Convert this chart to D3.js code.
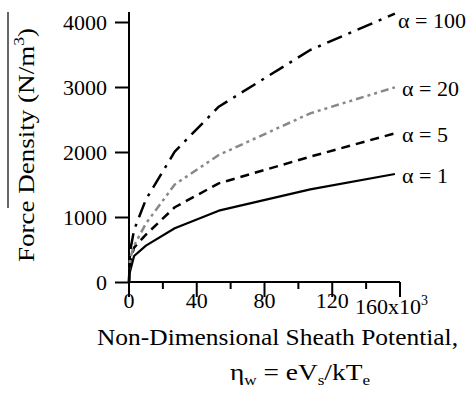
<!DOCTYPE html>
<html><head><meta charset="utf-8">
<script src="https://cdn.jsdelivr.net/npm/d3@7"></script>
<style>body{margin:0;background:#fff}svg{display:block}text{font-family:"Liberation Serif","Times New Roman",Tinos,serif;fill:#000}</style>
</head><body><svg id="c" width="471" height="407"></svg>
<script>
const eta = [0, 0.5, 3, 10, 27, 53, 107, 157];
const alpha1 = [0, 150, 400, 560, 826, 1097, 1426, 1662];
const alpha5 = [0, 300, 530, 730, 1150, 1518, 1928, 2287];
const alpha20 = [0, 350, 560, 900, 1500, 1954, 2595, 2995];
const alpha100 = [0, 450, 800, 1270, 2005, 2697, 3569, 4128];
const seriesNames = ["α = 1", "α = 5", "α = 20", "α = 100"];
const yTicks = [0, 1000, 2000, 3000, 4000];
const xMajor = [0, 40, 80, 120, 160];
const xMinor = [20, 60, 100, 140];

const svg = d3.select("#c");
const x = d3.scaleLinear().domain([0, 160]).range([129, 400]);
const y = d3.scaleLinear().domain([0, 4000]).range([282, 22]);

const styles = [
  {data: alpha1, color: "#000", dash: null, w: 2.2, ly: 175, lx: 402},
  {data: alpha5, color: "#000", dash: "9,6", w: 2.5, ly: 134, lx: 402},
  {data: alpha20, color: "#888", dash: "8,4,3,4,3,4", w: 2.5, ly: 88, lx: 402},
  {data: alpha100, color: "#000", dash: "16,7,3,7", w: 2.5, ly: 20, lx: 398}
];

// axes
const yAxis = d3.axisLeft(y).tickValues(yTicks).tickFormat(d3.format("d"))
  .tickSize(14).tickPadding(8).tickSizeOuter(0);
const gy = svg.append("g").attr("transform", `translate(${x(0)},0)`).call(yAxis);
gy.attr("font-family", null);
gy.select(".domain").remove();
gy.selectAll("line").attr("stroke", "#000").attr("stroke-width", 2);
gy.selectAll("text").style("font-size", "22px");

svg.append("line").attr("x1", x(0)).attr("x2", x(0)).attr("y1", 12).attr("y2", y(0) + 15)
  .attr("stroke", "#000").attr("stroke-width", 2);
svg.append("line").attr("x1", x(0)).attr("x2", x(160)).attr("y1", y(0)).attr("y2", y(0))
  .attr("stroke", "#000").attr("stroke-width", 2);

const gx = svg.append("g");
gx.selectAll("line.maj").data(xMajor).join("line")
  .attr("x1", d => x(d)).attr("x2", d => x(d)).attr("y1", y(0)).attr("y2", y(0) + 15)
  .attr("stroke", "#000").attr("stroke-width", 2);
gx.selectAll("line.min").data(xMinor).join("line")
  .attr("x1", d => x(d)).attr("x2", d => x(d)).attr("y1", y(0)).attr("y2", y(0) + 7)
  .attr("stroke", "#000").attr("stroke-width", 2);
gx.selectAll("text.tl").data(xMajor.slice(0, 4)).join("text")
  .attr("x", d => x(d)).attr("y", 308).attr("text-anchor", "middle")
  .style("font-size", "22px").text(d => d);
const last = gx.append("text").attr("x", 355).attr("y", 314).style("font-size", "22px");
last.append("tspan").text("160x10");
last.append("tspan").attr("dy", -9).style("font-size", "14px").text("3");

// lines
const line = d3.line().x((d, i) => x(eta[i])).y(d => y(d));
styles.forEach((s, k) => {
  svg.append("path").datum(s.data).attr("d", line).attr("fill", "none")
    .attr("stroke", s.color).attr("stroke-width", s.w)
    .attr("stroke-dasharray", s.dash).attr("stroke-linejoin", "round");
  svg.append("text").attr("x", s.lx).attr("y", s.ly).attr("dy", "0.35em")
    .style("font-size", "22px").text(seriesNames[k]);
});

// axis titles
svg.append("text").attr("x", 97).attr("y", 345).attr("textLength", 361).attr("lengthAdjust", "spacingAndGlyphs")
  .style("font-size", "23px").text("Non-Dimensional Sheath Potential,");
const t2 = svg.append("text").attr("x", 230).attr("y", 380)
  .attr("textLength", 140).attr("lengthAdjust", "spacingAndGlyphs").style("font-size", "24px");
t2.append("tspan").text("η");
t2.append("tspan").attr("dy", 5).style("font-size", "15px").text("w");
t2.append("tspan").attr("dy", -5).text(" = eV");
t2.append("tspan").attr("dy", 5).style("font-size", "15px").text("s");
t2.append("tspan").attr("dy", -5).text("/kT");
t2.append("tspan").attr("dy", 5).style("font-size", "15px").text("e");

svg.append("line").attr("x1", 8).attr("x2", 8).attr("y1", 12).attr("y2", 208).attr("stroke", "#333").attr("stroke-width", 1.5);
const yl = svg.append("text").attr("transform", "translate(34,262) rotate(-90)")
  .attr("textLength", 234).attr("lengthAdjust", "spacingAndGlyphs").style("font-size", "23px");
yl.append("tspan").text("Force Density (N/m");
yl.append("tspan").attr("dy", -10).style("font-size", "15px").text("3");
yl.append("tspan").attr("dy", 10).text(")");
</script></body></html>
